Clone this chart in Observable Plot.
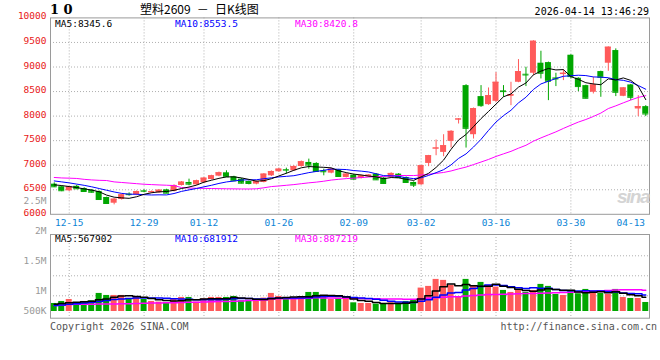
<!DOCTYPE html>
<html><head><meta charset="utf-8">
<script src="https://cdn.jsdelivr.net/npm/d3@7"></script>
<script src="https://cdn.jsdelivr.net/npm/@observablehq/plot@0.6"></script>
<style>
html,body{margin:0;padding:0;background:#fff;}
#chart{position:relative;width:660px;height:360px;overflow:hidden;font-family:"DejaVu Sans Mono",monospace;}
#chart svg{position:absolute;left:0;top:0;}
.lbl{position:absolute;white-space:nowrap;font-size:9.5px;line-height:1;font-family:"DejaVu Sans Mono",monospace;}
</style></head><body><div id="chart"></div>
<script>
// ---- data ----
const open  = [6614,6560,6478,6570,6526,6490,6464,6342,6226,6301, 6410,6396,6480,6437,6437,6498,6464,6587,6648,6600,
               6641,6709,6777,6845,6764,6716,6668,6614,6648,6784, 6866,6912,6886,6974,7056,7036,6886,6838,6900,6750,
               6798,6730,6764,6818,6736,6750,6818,6750,6648,6601, 7036,7330,7261,7485,7921,8621,7621,8397,8233,8301,
               8513,8403,8689,8852,8873,9077,9090,8777,8845,9240, 8771,8621,8485,8907,9077,9335,8403,8635,8145,8193];
const close = [6560,6480,6560,6520,6464,6450,6301,6220,6308,6396, 6400,6464,6470,6464,6491,6430,6587,6655,6614,6682,
               6736,6784,6845,6764,6682,6634,6628,6668,6818,6872, 6920,6900,6974,7070,7002,6872,6866,6920,6770,6818,
               6716,6784,6798,6702,6628,6832,6750,6648,6594,6989, 7193,7350,7397,7689,7941,7751,8152,8213,8417,8689,
               8499,8437,8907,8838,9525,8873,8709,8757,8873,8805, 8601,8363,8635,8791,9403,8485,8573,8383,8193,8043];
const high  = [6640,6575,6570,6590,6540,6500,6475,6350,6320,6410, 6437,6475,6500,6475,6500,6510,6600,6668,6716,6695,
               6750,6795,6860,6886,6775,6730,6680,6680,6830,6885, 6935,6940,6990,7085,7124,7050,6920,6935,6915,6830,
               6810,6795,6810,6830,6750,6845,6830,6760,6660,7000, 7200,7513,7621,7703,7950,8640,8165,8621,8573,8886,
               8621,8689,9151,8995,9535,9321,9100,8873,8941,9250, 8780,8630,8791,8915,9410,9369,8580,8645,8417,8213];
const low   = [6545,6460,6465,6505,6450,6430,6290,6205,6192,6290, 6369,6380,6440,6425,6425,6420,6455,6575,6580,6590,
               6630,6700,6765,6750,6670,6620,6600,6600,6640,6770, 6855,6818,6875,6960,6920,6860,6784,6825,6755,6740,
               6700,6720,6750,6690,6615,6740,6740,6635,6546,6590, 6970,7193,7173,7349,7839,7349,7533,8179,8220,8281,
               8383,8213,8680,8601,8825,8757,8315,8601,8723,8757, 8499,8350,8451,8383,8913,8397,8395,8315,7989,7989];
const volume = [334000,417000,500000,334000,417000,445000,751000,667000,667000,667000,
                500000,612000,500000,417000,389000,361000,500000,584000,584000,389000,
                528000,584000,584000,584000,626000,445000,445000,445000,556000,751000,
                626000,528000,556000,584000,792000,792000,639000,500000,556000,528000,
                361000,334000,334000,306000,306000,361000,334000,417000,500000,973000,
                1043000,1334000,1293000,1084000,584000,1334000,1043000,1209000,1084000,1015000,
                876000,792000,876000,792000,876000,1126000,1043000,709000,667000,876000,
                737000,917000,806000,751000,709000,917000,584000,542000,542000,375000];
// moving-average values at the left edge (window not complete in view)
const ma5Head  = [6600,6585,6565,6545];
const ma10Head = [6680,6660,6640,6615,6590,6560,6525,6490,6455];
const ma30Head = [6750,6740,6736,6730,6712,6700,6692,6688,6660,6648,6636,6624,6612,6605,6598,6592,6585,6545,6535,6530,
                  6528,6525,6522,6520,6518,6516,6515,6520,6540];
const vma5Head  = [300000,330000,360000,380000];
const vma10Head = [250000,270000,300000,320000,350000,380000,420000,460000,500000];
const vma30Head = [250000,262000,290000,300000,306000,306000,310000,312000,314000,318000,322000,330000,340000,350000,356000,
                   361000,365000,372000,380000,388000,396000,405000,412000,420000,430000,440000,452000,465000,480000];
// axis ticks
const tickIdx    = [2,12,20,30,40,49,59,69,77];
const tickLabels = ["12-15","12-29","01-12","01-26","02-09","03-02","03-16","03-30","04-13"];
const priceTicks = [6000,6500,7000,7500,8000,8500,9000,9500,10000];
const volTicks   = [500000,1000000,1500000,2000000,2500000];
// header texts
const title = "塑料2609 － 日K线图";
const stamp = "2026-04-14 13:46:29";
const maNames = ["MA5","MA10","MA30"];
const priceMaValues = ["8345.6","8553.5","8420.8"];
const volMaValues = ["567902","681912","887219"];

// ---- build rows ----
const N = close.length;
const idx = d3.range(N);
function movingAvg(values, n, head) {
  return values.map((_, i) => i >= n - 1 ? d3.mean(values.slice(i - n + 1, i + 1)) : head[i]);
}
const ma5 = movingAvg(close, 5, ma5Head), ma10 = movingAvg(close, 10, ma10Head), ma30 = movingAvg(close, 30, ma30Head);
const vma5 = movingAvg(volume, 5, vma5Head), vma10 = movingAvg(volume, 10, vma10Head), vma30 = movingAvg(volume, 30, vma30Head);
const rows = idx.map(i => ({i, o: open[i], c: close[i], h: high[i], l: low[i], v: volume[i],
  ma5: ma5[i], ma10: ma10[i], ma30: ma30[i], vma5: vma5[i], vma10: vma10[i], vma30: vma30[i]}));
const upRows = rows.filter(d => d.c >= d.o), downRows = rows.filter(d => d.c < d.o);

const RED = "#ff5a5a", GREEN = "#00a600", BLUE = "#0000ff", MAG = "#ff00ff";
const GRID = "#b0b0b0", FRAME = "#9a9a9a";
const W = 660, H = 360;
const FONT = "DejaVu Sans Mono";
const common = {width: W, height: H, marginLeft: 50, marginRight: 11,
  style: {background: "transparent", overflow: "visible"}};
const xBand = {type: "band", domain: idx, paddingInner: 0.2, paddingOuter: 0.1};

const candleMarks = (data, col) => [
  Plot.ruleX(data, {x: "i", y1: "l", y2: "h", stroke: col, strokeWidth: 1}),
  Plot.barY(data, {x: "i", y1: "o", y2: "c", fill: col}),
  Plot.tickY(data, {x: "i", y: "c", stroke: col, strokeWidth: 1})
];

const pricePlot = Plot.plot({
  ...common,
  marginTop: 17.4, marginBottom: H - 213.8,
  x: xBand,
  y: {domain: [6000, 10000]},
  marks: [
    Plot.ruleY(priceTicks.slice(1, -1), {stroke: GRID, strokeDasharray: "1,2"}),
    Plot.ruleX(tickIdx.slice(0, -1), {stroke: GRID, strokeDasharray: "1,2"}),
    ...candleMarks(upRows, RED),
    ...candleMarks(downRows, GREEN),
    Plot.line(rows, {x: "i", y: "ma30", stroke: MAG, strokeWidth: 1}),
    Plot.line(rows, {x: "i", y: "ma10", stroke: BLUE, strokeWidth: 1}),
    Plot.line(rows, {x: "i", y: "ma5", stroke: "#000", strokeWidth: 1}),
    Plot.frame({stroke: FRAME}),
    Plot.axisY(priceTicks, {tickSize: 0, tickPadding: 4, tickFormat: d3.format("d"), fill: "#e81818",
      fontSize: 9.5, fontFamily: FONT, dy: -1.5, label: null}),
    Plot.axisX(tickIdx, {tickSize: 0, tickPadding: 4.7, tickFormat: d => tickLabels[tickIdx.indexOf(d)],
      fill: "#0b84d6", fontSize: 9.5, fontFamily: FONT, label: null})
  ]
});

const volPlot = Plot.plot({
  ...common,
  marginTop: 234, marginBottom: H - 317.7,
  x: {...xBand, axis: null},
  y: {domain: [0, 3200000], range: [311, 234], axis: null},
  marks: [
    Plot.ruleY([652000, 1484000, 2315000], {stroke: GRID, strokeDasharray: "1,2"}),
    Plot.ruleX(tickIdx.slice(0, -1), {stroke: GRID, strokeDasharray: "1,2"}),
    Plot.barY(upRows, {x: "i", y: "v", fill: RED}),
    Plot.barY(downRows, {x: "i", y: "v", fill: GREEN}),
    Plot.line(rows, {x: "i", y: "vma30", stroke: MAG, strokeWidth: 1.5, curve: "step"}),
    Plot.line(rows, {x: "i", y: "vma10", stroke: BLUE, strokeWidth: 1.5, curve: "step"}),
    Plot.line(rows, {x: "i", y: "vma5", stroke: "#000", strokeWidth: 1.5, curve: "step"}),
    Plot.frame({stroke: FRAME})
  ]
});

// the volume labels follow their own linear scale (60 px per million); the 500K label sits clamped above the frame bottom
const volLabelStyle = {tickSize: 0, tickPadding: 4, fill: "#999", fontSize: 9.5, fontFamily: FONT, label: null,
  tickFormat: d => d >= 1e6 ? (d / 1e6) + "M" : (d / 1e3) + "K"};
const volAxisPlot = Plot.plot({
  ...common, marginTop: 0, marginBottom: 0,
  y: {domain: [1000000, 2500000], range: [290.8, 200.8]},
  marks: [
    Plot.axisY(volTicks.slice(1), volLabelStyle),
    Plot.axisY(volTicks.slice(0, 1), {...volLabelStyle, dy: -10.5})
  ]
});

const chart = document.getElementById("chart");
chart.append(pricePlot, volPlot, volAxisPlot);

function addLabel(text, style) {
  const s = document.createElement("span");
  s.className = "lbl";
  s.textContent = text;
  Object.assign(s.style, style);
  chart.appendChild(s);
  return s;
}
addLabel("1 0", {left: "50px", top: "3px", fontFamily: "'DejaVu Serif', serif", fontWeight: "bold", fontSize: "13px"});
addLabel(title, {left: "140px", top: "3px", fontFamily: "'Noto Sans CJK SC', sans-serif", fontSize: "12px",
  color: "#000", wordSpacing: "3.5px"});
addLabel(stamp, {right: "11px", top: "7px", fontSize: "10px", color: "#000"});
const maColors = ["#000", BLUE, MAG];
const maX = [55, 175, 295];
maNames.forEach((n, k) => {
  addLabel(n + ":" + priceMaValues[k], {left: maX[k] + "px", top: "19.4px", color: maColors[k]});
  addLabel(n + ":" + volMaValues[k], {left: maX[k] + "px", top: "233.8px", color: maColors[k]});
});
addLabel("Copyright 2026 SINA.COM", {left: "50px", top: "322.2px", fontSize: "10px", color: "#555"});
addLabel("http://finance.sina.com.cn", {right: "3px", top: "322.2px", fontSize: "10px", color: "#555"});
addLabel("sina", {left: "617px", top: "187px", fontFamily: "'Liberation Sans', sans-serif", fontWeight: "bold",
  fontStyle: "italic", fontSize: "19px", letterSpacing: "-1.5px", color: "#d4d4d4"});
</script></body></html>
